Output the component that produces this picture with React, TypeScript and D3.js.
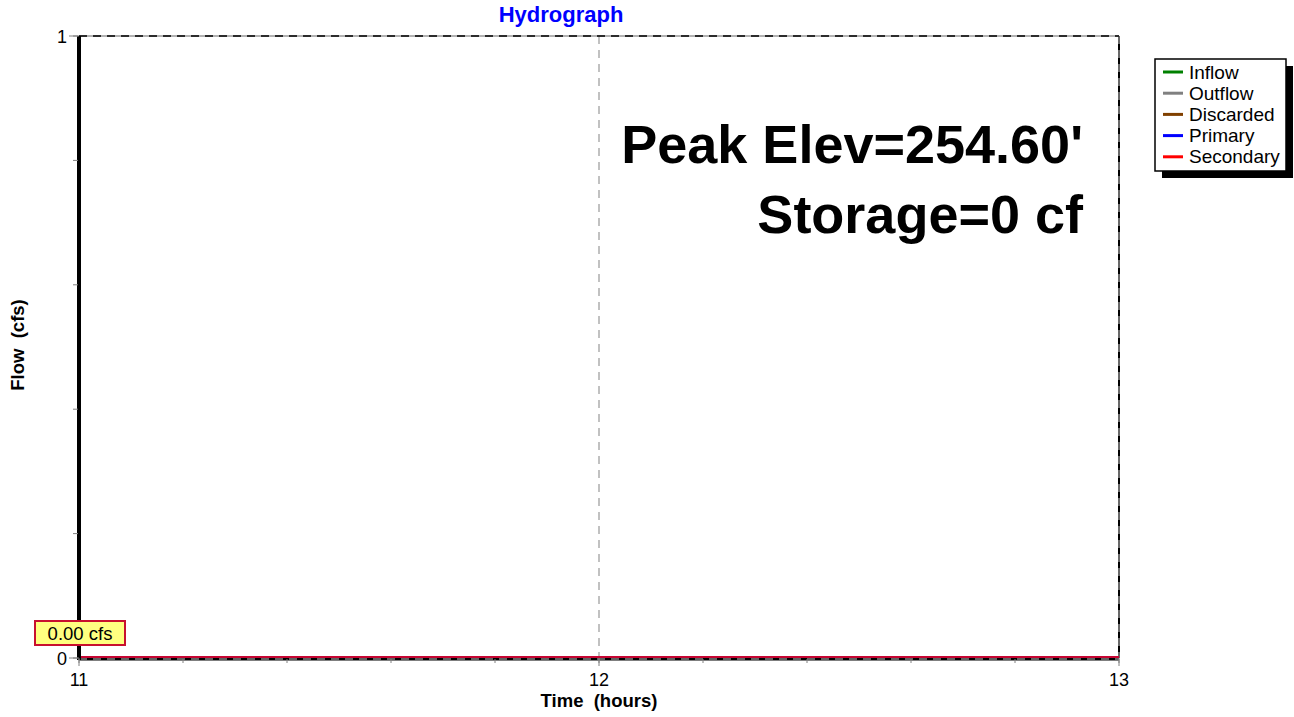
import React from "react";
import * as d3 from "d3";

// chart values
const seriesNames = ["Inflow", "Outflow", "Discarded", "Primary", "Secondary"];
const seriesColors = ["#008000", "#808080", "#804000", "#0000ff", "#ff0000"];
const hours = [11, 11.5, 12, 12.5, 13];
const inflow = [0, 0, 0, 0, 0];
const outflow = [0, 0, 0, 0, 0];
const discarded = [0, 0, 0, 0, 0];
const primary = [0, 0, 0, 0, 0];
const secondary = [0, 0, 0, 0, 0];
const xTicks = [11, 12, 13];
const yTicks = [0, 1];
const peakLabel = "0.00 cfs";
const infoLines = ["Peak Elev=254.60'", "Storage=0 cf"];

const W = 1294;
const H = 717;
const margin = { top: 36, right: 175, bottom: 59, left: 79 };
const font = "'Liberation Sans', Arial, sans-serif";

const App = () => {
  const innerW = W - margin.left - margin.right;
  const innerH = H - margin.top - margin.bottom;

  const x = d3.scaleLinear().domain([11, 13]).range([0, innerW]);
  const y = d3.scaleLinear().domain([0, 1]).range([innerH, 0]);

  const allSeries = [inflow, outflow, discarded, primary, secondary];
  const line = d3
    .line<number>()
    .x((d, i) => x(hours[i]))
    .y((d) => y(d));

  const minorX = d3.range(11, 13.001, 0.2);
  const minorY = d3.range(0, 1.001, 0.2);

  return (
    <svg width={W} height={H} style={{ position: "absolute", left: 0, top: 0 }} fontFamily={font}>
      <rect width={W} height={H} fill="#fff" />
      <text x={561} y={22} textAnchor="middle" fill="#0000ff" fontWeight="bold" fontSize={22}>
        Hydrograph
      </text>
      <g transform={`translate(${margin.left},${margin.top})`}>
        {/* frame */}
        <line x1={innerW} x2={innerW} y1={0} y2={innerH} stroke="#000" strokeWidth={2} />
        <line x1={0} x2={innerW} y1={y(1)} y2={y(1)} stroke="#999" strokeWidth={1.5} />
        <line x1={0} x2={innerW} y1={y(0) + 1} y2={y(0) + 1} stroke="#000" strokeWidth={3} />
        {/* grid */}
        {xTicks.slice(1).map((t) => (
          <line key={"gx" + t} x1={x(t)} x2={x(t)} y1={0} y2={innerH} stroke="#a0a0a0" strokeDasharray="8,6" strokeWidth={1.3} />
        ))}
        <line x1={0} x2={innerW} y1={y(1)} y2={y(1)} stroke="#000" strokeDasharray="8,6" strokeWidth={1.5} />
        <line x1={0} x2={innerW} y1={y(0) + 1} y2={y(0) + 1} stroke="#808080" strokeDasharray="8,6" strokeWidth={1.3} />
        {/* series */}
        {allSeries.map((s, i) => (
          <path key={seriesNames[i]} d={line(s) || ""} fill="none" stroke={seriesColors[i]} strokeWidth={1.5} transform="translate(0,-1)" />
        ))}
        {/* left axis */}
        <line x1={0} x2={0} y1={0} y2={innerH + 2} stroke="#000" strokeWidth={4} />
        {/* x ticks */}
        {minorX.map((t, i) => (
          <line key={"mx" + i} x1={x(t)} x2={x(t)} y1={innerH + 1} y2={innerH + 5} stroke="#808080" strokeWidth={1} />
        ))}
        {xTicks.map((t) => (
          <g key={"xt" + t}>
            <line x1={x(t)} x2={x(t)} y1={innerH} y2={innerH + 8} stroke="#808080" strokeWidth={1} />
            <text x={x(t)} y={innerH + 28} textAnchor="middle" fontSize={18} fill="#000">
              {t}
            </text>
          </g>
        ))}
        {/* y ticks */}
        {minorY.map((t, i) => (
          <line key={"my" + i} x1={-6} x2={-1} y1={y(t)} y2={y(t)} stroke="#808080" strokeWidth={1} />
        ))}
        {yTicks.map((t) => (
          <g key={"yt" + t}>
            <line x1={-10} x2={0} y1={y(t)} y2={y(t)} stroke="#808080" strokeWidth={1} />
            <text x={-12} y={y(t) + 7} textAnchor="end" fontSize={18} fill="#000">
              {t}
            </text>
          </g>
        ))}
        {/* peak label */}
        <g transform={`translate(${x(11) - 44},${y(0) - 37})`}>
          <rect width={90} height={24} fill="#ffff80" stroke="#c8102e" strokeWidth={2} />
          <text x={45} y={18.5} textAnchor="middle" fontSize={18.5} fill="#000">
            {peakLabel}
          </text>
        </g>
        {/* info text */}
        {infoLines.map((t, i) => (
          <text key={t} x={innerW - 36} y={127 + i * 70} textAnchor="end" fontSize={54} fontWeight="bold" fill="#000">
            {t}
          </text>
        ))}
      </g>
      {/* axis titles */}
      <text x={599} y={707} textAnchor="middle" fontWeight="bold" fontSize={18.5} style={{ whiteSpace: "pre" }}>
        {"Time\u00a0\u00a0(hours)"}
      </text>
      <text transform="translate(24,345) rotate(-90)" textAnchor="middle" fontWeight="bold" fontSize={18.5}>
        {"Flow\u00a0\u00a0(cfs)"}
      </text>
      {/* legend */}
      <g transform="translate(1155,59)">
        <rect x={7} y={7} width={131} height={112} fill="#000" />
        <rect width={131} height={112} fill="#fff" stroke="#000" strokeWidth={1.5} />
        {seriesNames.map((n, i) => (
          <g key={n} transform={`translate(0,${13 + i * 21.2})`}>
            <line x1={8} x2={28} y1={0} y2={0} stroke={seriesColors[i]} strokeWidth={3} />
            <text x={34} y={6.5} fontSize={19} fill="#000">
              {n}
            </text>
          </g>
        ))}
      </g>
    </svg>
  );
};

export default App;
